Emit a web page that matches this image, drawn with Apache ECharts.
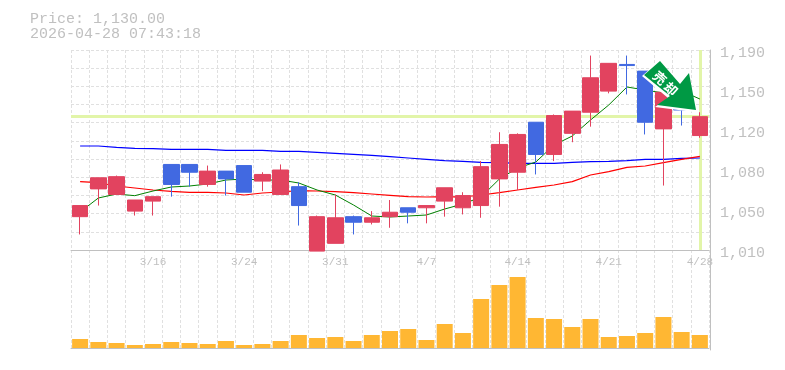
<!DOCTYPE html>
<html><head><meta charset="utf-8">
<style>html,body{margin:0;padding:0;background:#fff}#c{width:785px;height:370px}</style>
<script src="https://cdn.jsdelivr.net/npm/echarts@6/dist/echarts.min.js"></script>
</head><body><div id="c"></div>
<script>
const categories=['3/10','3/11','3/12','3/13','3/16','3/17','3/18','3/19','3/23','3/24','3/25','3/26','3/27','3/30','3/31','4/1','4/2','4/3','4/6','4/7','4/8','4/9','4/10','4/13','4/14','4/15','4/16','4/17','4/20','4/21','4/22','4/23','4/24','4/27','4/28'];
const shownDates=['3/16','3/24','3/31','4/7','4/14','4/21','4/28'];
const tickLabels=['1,010','1,050','1,080','1,120','1,150','1,190'];
// open, close, low, high
const candles=[[1040,1050,1024,1050],[1065,1075,1050,1075],[1060,1076,1060,1077],[1045,1055,1041,1055],[1054,1058,1041,1058],
[1087,1069,1058,1087],[1087,1080,1067,1087],[1069,1081,1067,1086],[1081,1074,1059,1081],[1086,1062,1062,1086],
[1072,1078,1063,1080],[1060,1082,1060,1087],[1067,1050,1032,1071],[1009,1040,1009,1041],[1016,1039,1016,1060],
[1040,1035,1024,1041],[1035,1039,1033,1045],[1040,1044,1030,1055],[1048,1044,1034,1048],[1048,1050,1034,1050],
[1054,1066,1040,1066],[1048,1059,1042,1062],[1050,1085,1039,1090],[1074,1105,1049,1116],[1080,1114,1064,1115],
[1125,1096,1078,1125],[1096,1131,1090,1132],[1115,1135,1107,1135],[1134,1165,1121,1185],[1153,1178,1151,1178],
[1177,1176,1150,1185],[1171,1125,1114,1171],[1119,1152,1068,1155],[1145,1136,1122,1150],[1113,1130,1111,1134]];
const maShort=[1044.2,1056.8,1060.4,1058.9,1063.1,1066.7,1067.6,1069.4,1073,1073.9,1073,1073,1070.3,1064,1059.5,1050.5,1040.6,1039.7,1040.6,1041.5,1046.9,1051.4,1057.7,1073.9,1083.8,1089.2,1104.5,1112.6,1127,1140.5,1156.7,1154,1151.3,1153.1,1145.9];
const maMid=[1071.5,1070.6,1067.6,1065.8,1064,1062.8,1061.9,1061.9,1061.3,1059.5,1061.3,1062.2,1063.4,1063.1,1062.5,1061.6,1060.4,1059.2,1058,1057.7,1058,1057.7,1059.5,1061.6,1064,1066.4,1068.5,1071.5,1077.5,1080.5,1084.4,1085.6,1088.6,1091.6,1094.3];
const maLong=[1103.6,1103.6,1102.4,1101.5,1101.2,1100.6,1100.6,1100.6,1099.7,1099.7,1099.7,1098.8,1098.8,1097.9,1097,1096.1,1095.2,1094,1092.8,1091.6,1090.4,1089.8,1088.9,1088.6,1088,1088,1088,1088.9,1089.5,1089.8,1090.4,1091.6,1091.6,1092.5,1092.8];
const volumes=[9,6,5,3,4,6,5,4,7,3,4,7,13,10,11,7,13,17,19,8,24,15,49,63,71,30,29,21,29,11,12,15,31,16,13];
const currentPrice=1130;
const titleLines=['Price: 1,130.00','2026-04-28 07:43:18'];

const GREY='#c0c0c0',DASH='#e0e0e0',MONO='"Liberation Mono",monospace';
const split={show:true,lineStyle:{color:DASH,type:[3,2],width:1}};
const chart=echarts.init(document.getElementById('c'),null,{renderer:'canvas'});
chart.setOption({
 animation:false,
 grid:[{left:71,top:50,width:638,height:200},{left:71,top:250,width:638,height:100},{left:71,top:53,width:638,height:200}],
 xAxis:[
  {gridIndex:0,type:'category',data:categories,boundaryGap:true,
   axisLine:{show:true,lineStyle:{color:GREY,width:1}},axisTick:{show:false},splitLine:Object.assign({interval:0},split),
   axisLabel:{show:true,interval:(i,v)=>shownDates.includes(v),color:GREY,fontFamily:MONO,fontSize:11,margin:7,hideOverlap:false}},
  {gridIndex:1,type:'category',data:categories,boundaryGap:true,
   axisLine:{show:true,lineStyle:{color:GREY,width:1}},axisTick:{show:false},splitLine:Object.assign({interval:0},split),axisLabel:{show:false}},
  {gridIndex:2,type:'category',data:categories,show:false}
 ],
 yAxis:[
  {gridIndex:0,type:'value',min:1010,max:1190,show:false,splitLine:{show:false},scale:true},
  {gridIndex:0,type:'value',min:0,max:11,interval:1,position:'left',axisLine:{show:false},axisTick:{show:false},axisLabel:{show:false},splitLine:split},
  {gridIndex:0,type:'value',min:0,max:5,interval:1,position:'right',offset:1,axisLine:{show:true,lineStyle:{color:GREY}},axisTick:{show:false},splitLine:{show:false},axisLabel:{show:false}},
  {gridIndex:1,type:'value',min:-2,max:98,position:'right',offset:1,axisLine:{show:true,lineStyle:{color:GREY}},axisTick:{show:false},axisLabel:{show:false},splitLine:{show:false}},
  {gridIndex:2,type:'value',min:0,max:5,interval:1,position:'right',offset:1,axisLine:{show:false},axisTick:{show:false},splitLine:{show:false},
   axisLabel:{show:true,color:GREY,fontFamily:MONO,fontSize:15,margin:10,formatter:v=>tickLabels[v]}}
 ],
 series:[
  {name:'long',type:'line',xAxisIndex:0,yAxisIndex:0,data:maLong,showSymbol:false,z:2,lineStyle:{color:'#0000ff',width:1.2},
   markLine:{silent:true,symbol:'none',z:1,label:{show:false},lineStyle:{color:'#e2f5a9',width:3,type:'solid'},
    data:[{yAxis:currentPrice},{xAxis:categories[categories.length-1]}]}},
  {name:'mid',type:'line',xAxisIndex:0,yAxisIndex:0,data:maMid,showSymbol:false,z:2,lineStyle:{color:'#ff0000',width:1.2}},
  {name:'short',type:'line',xAxisIndex:0,yAxisIndex:0,data:maShort,showSymbol:false,z:2,lineStyle:{color:'#008000',width:1}},
  {name:'price',type:'candlestick',xAxisIndex:0,yAxisIndex:0,data:candles,barWidth:16,z:3,clip:false,
   itemStyle:{color:'#e2435f',color0:'#4169e1',borderColor:'#e2435f',borderColor0:'#4169e1',borderWidth:1}},
  {name:'volume',type:'bar',xAxisIndex:1,yAxisIndex:3,data:volumes,barWidth:16,itemStyle:{color:'#ffb733'}}
 ],
 graphic:[
  {type:'text',left:30,top:12,style:{text:titleLines[0],fill:GREY,font:'15px '+MONO}},
  {type:'text',left:30,top:27,style:{text:titleLines[1],fill:GREY,font:'15px '+MONO}},
  {type:'polygon',z:20,shape:{points:[[658,62],[642,76],[668,98],[655,107],[694,112],[688,75],[679,86]]},style:{fill:'#ffffff'}},
  {type:'polygon',z:21,shape:{points:[[660,61],[644,75],[670,96],[657,105],[696,110],[689,73],[680,84]]},style:{fill:'#009944'}},
  {type:'text',z:22,x:660,y:78,rotation:-42*Math.PI/180,style:{text:'売',fill:'#fff',align:'center',verticalAlign:'middle',font:'bold 13px "Noto Sans CJK JP"'}},
  {type:'text',z:22,x:671,y:89,rotation:-42*Math.PI/180,style:{text:'却',fill:'#fff',align:'center',verticalAlign:'middle',font:'bold 13px "Noto Sans CJK JP"'}}
 ]
});
</script></body></html>
